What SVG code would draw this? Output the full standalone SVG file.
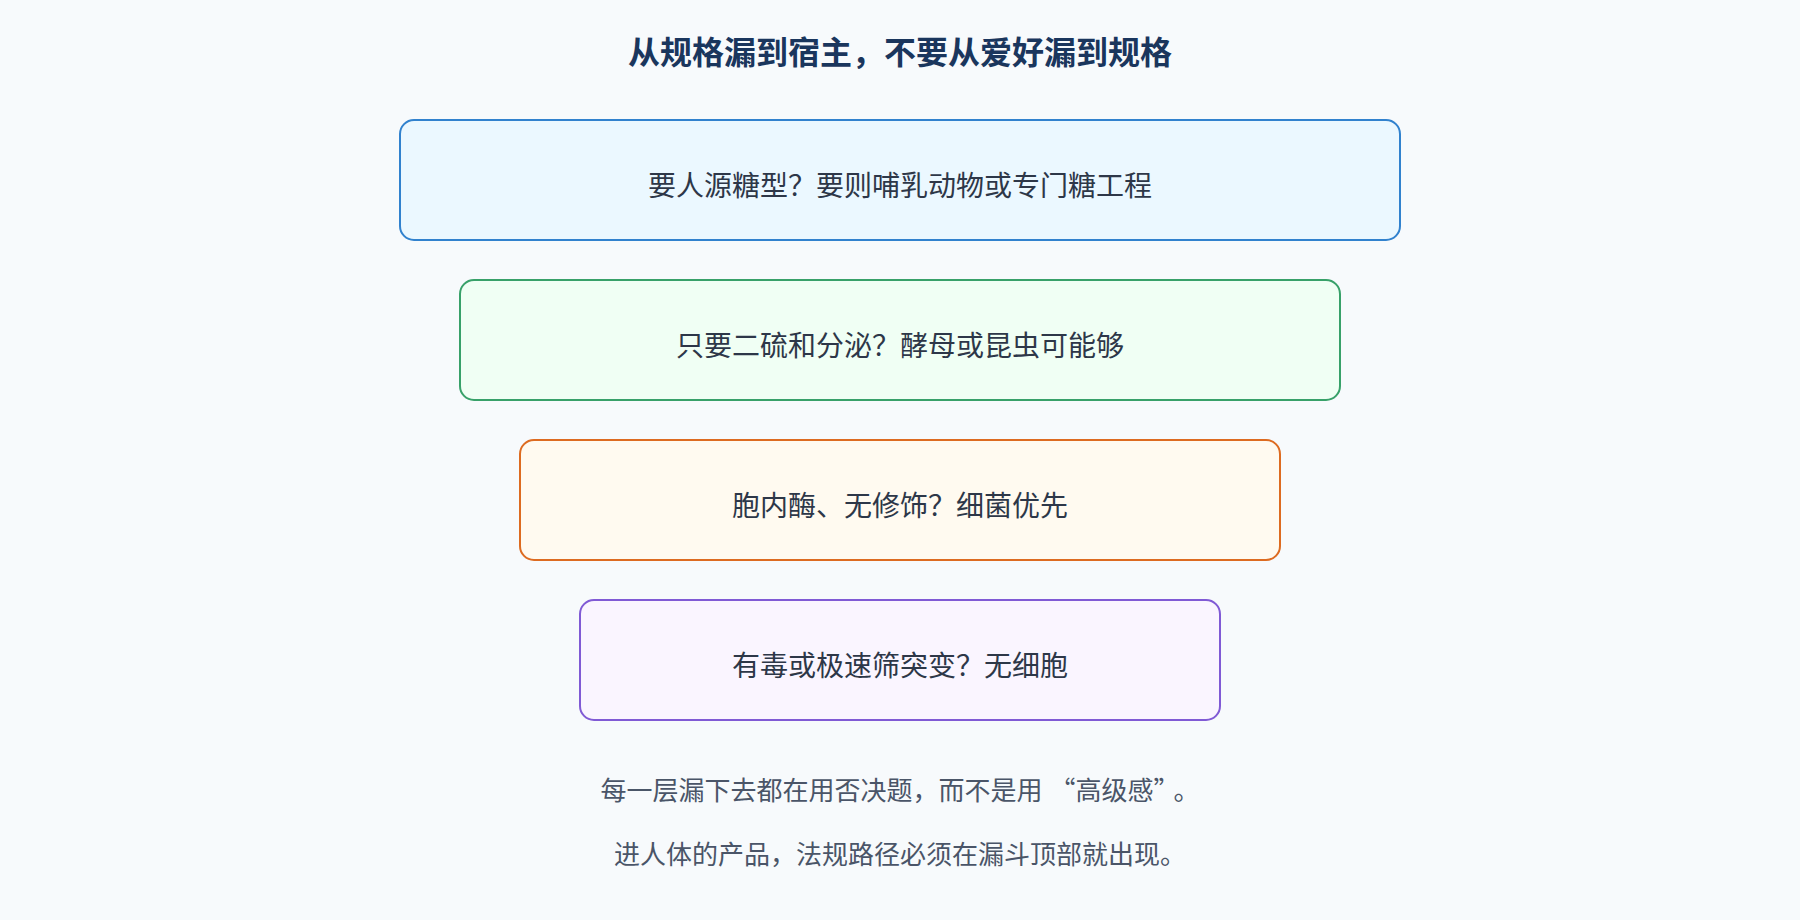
<svg xmlns="http://www.w3.org/2000/svg" width="1800" height="920" viewBox="0 0 1800 920">
<style>
.title{font-family:"Noto Sans CJK SC","Noto Sans",sans-serif;font-size:32px;font-weight:700;fill:#1a365d;text-anchor:middle}
.lbl{font-family:"Noto Sans CJK SC","Noto Sans",sans-serif;font-size:28px;fill:#2d3748;text-anchor:middle}
.note{font-family:"Noto Sans CJK SC","Noto Sans",sans-serif;font-size:26px;fill:#4a5568;text-anchor:middle}
.box{stroke-width:2}
</style>
<rect x="0" y="0" width="1800" height="920" fill="#f7fafc"/>
<text class="title" x="900" y="64">从规格漏到宿主，不要从爱好漏到规格</text>
<g id="connectors"></g>
<g id="n1">
<rect class="box" x="400" y="120" width="1000" height="120" rx="14" fill="#ebf8ff" stroke="#3182ce"/>
<text class="lbl" x="900" y="196">要人源糖型？要则哺乳动物或专门糖工程</text>
</g>
<g id="n2">
<rect class="box" x="460" y="280" width="880" height="120" rx="14" fill="#f0fff4" stroke="#38a169"/>
<text class="lbl" x="900" y="356">只要二硫和分泌？酵母或昆虫可能够</text>
</g>
<g id="n3">
<rect class="box" x="520" y="440" width="760" height="120" rx="14" fill="#fffaf0" stroke="#dd6b20"/>
<text class="lbl" x="900" y="516">胞内酶、无修饰？细菌优先</text>
</g>
<g id="n4">
<rect class="box" x="580" y="600" width="640" height="120" rx="14" fill="#faf5ff" stroke="#805ad5"/>
<text class="lbl" x="900" y="676">有毒或极速筛突变？无细胞</text>
</g>
<text class="note" x="900" y="800">每一层漏下去都在用否决题，而不是用<tspan dx="7">“</tspan>高级感”<tspan dx="7">。</tspan></text>
<text class="note" x="900" y="864">进人体的产品，法规路径必须在漏斗顶部就出现。</text>
</svg>
